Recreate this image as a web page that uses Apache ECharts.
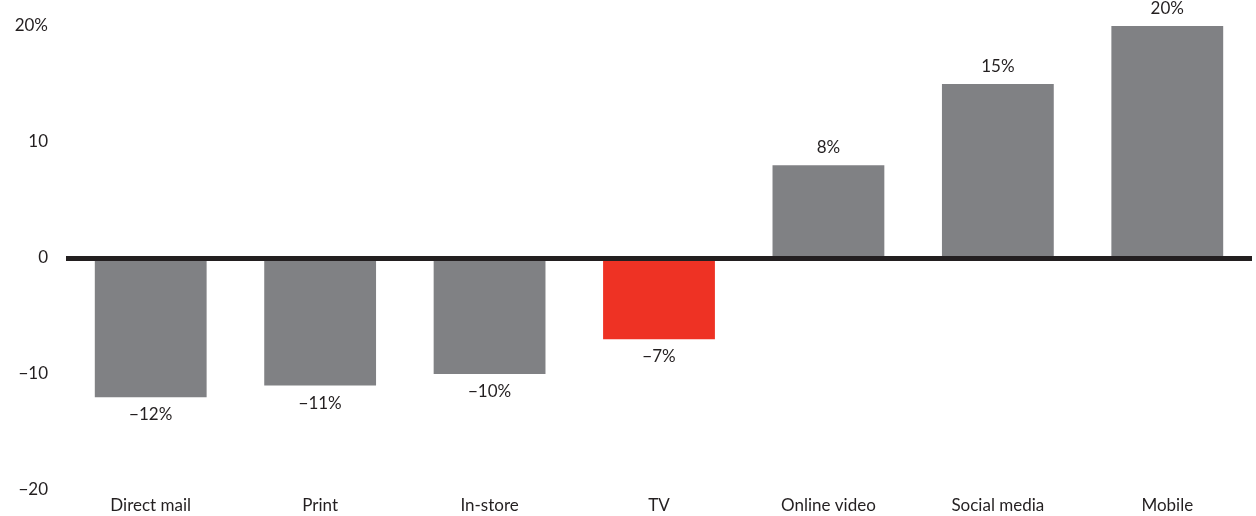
<!DOCTYPE html>
<html><head><meta charset="utf-8">
<script src="https://cdn.jsdelivr.net/npm/echarts@6/dist/echarts.min.js"></script>
<style>html,body{margin:0;padding:0;background:#fff}#c{width:1256px;height:516px}</style>
</head><body><div id="c"></div>
<script>
const categories = ["Direct mail","Print","In-store","TV","Online video","Social media","Mobile"];
const values = [-12,-11,-10,-7,8,15,20];
const highlight = ["TV"];
const yTicks = [-20,-10,0,10,20];

const GRAY = "#808184", RED = "#ee3224", TXT = "#231f20";
const FONT = "Lato, 'Noto Sans', sans-serif";
const fmt = v => (v < 0 ? "\u2212" + Math.abs(v) : String(v));

const chart = echarts.init(document.getElementById('c'), null, {renderer:'canvas'});
chart.setOption({
  animation:false,
  grid:{left:66,right:4,top:26,bottom:26,containLabel:false},
  xAxis:{type:'category',data:categories,
    axisLine:{show:false},axisTick:{show:false},
    axisLabel:{color:TXT,fontSize:17,fontFamily:FONT,margin:7}},
  yAxis:{type:'value',min:-20,max:20,interval:10,
    splitLine:{show:false},axisLine:{show:false},axisTick:{show:false},
    axisLabel:{color:TXT,fontSize:17,fontFamily:FONT,margin:18,
      formatter:v => v === yTicks[yTicks.length-1] ? fmt(v)+"%" : fmt(v)}},
  series:[{type:'bar',barWidth:'66%',
    data:values.map((v,i)=>({value:v,itemStyle:{color:highlight.includes(categories[i])?RED:GRAY},
      label:{position:v<0?'bottom':'top'}})),
    label:{show:true,color:TXT,fontSize:17,fontFamily:FONT,distance:9,
      formatter:p=>fmt(p.value)+"%"},
    markLine:{silent:true,symbol:['none','none'],label:{show:false},
      lineStyle:{color:'#231f20',width:5,type:'solid'},
      data:[{yAxis:0}]}
  }]
});
</script></body></html>
